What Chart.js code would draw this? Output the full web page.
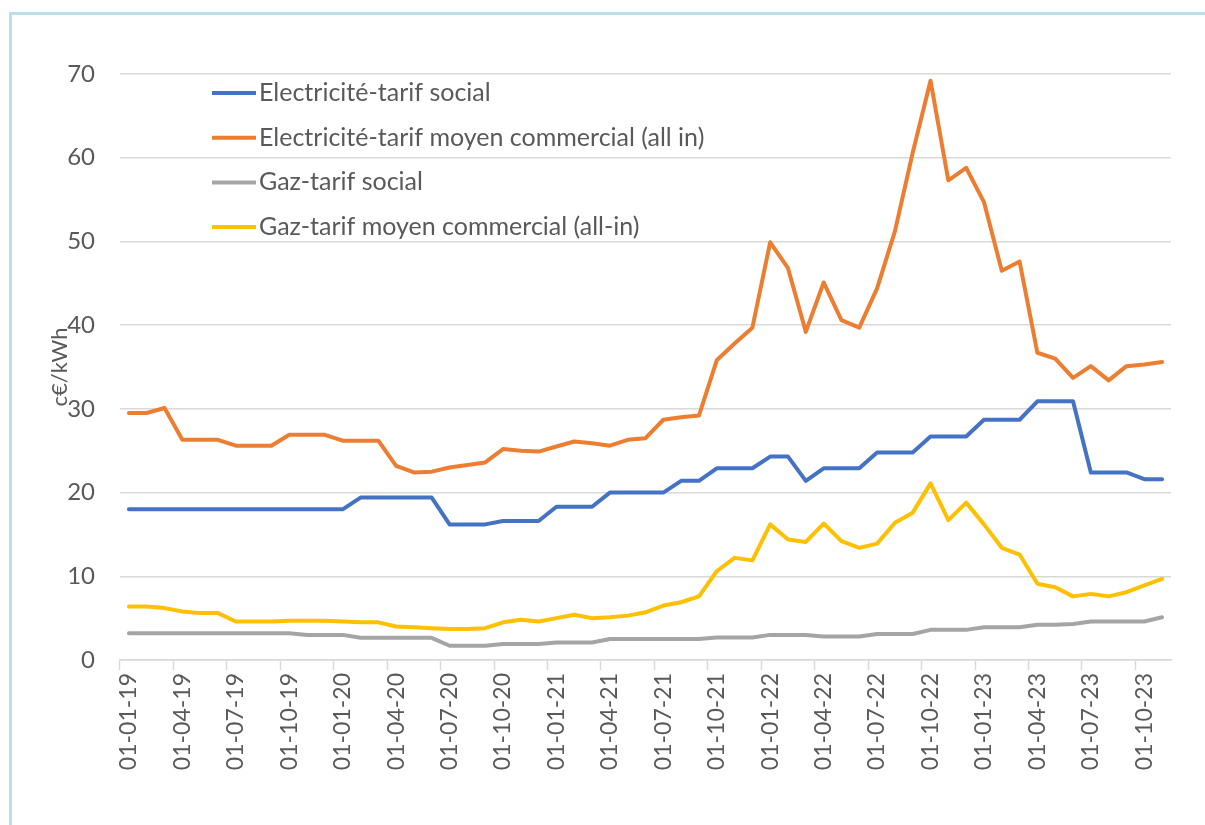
<!DOCTYPE html>
<html>
<head>
<meta charset="utf-8">
<script src="https://cdn.jsdelivr.net/npm/chart.js@4.4.1/dist/chart.umd.min.js"></script>
<style>
  html, body { margin: 0; padding: 0; background: #fff; overflow: hidden; }
  #frame {
    position: absolute; left: 9px; top: 12px; width: 1300px; height: 900px;
    border-left: 3px solid #bcdde9; border-top: 3px solid #bcdde9;
  }
  #wrap { position: absolute; left: 0; top: 0; width: 1205px; height: 825px; }
</style>
</head>
<body>
<div id="frame"></div>
<div id="wrap"><canvas id="chart" width="1205" height="825"></canvas></div>
<script>
const months = [
    "01-01-19", "01-02-19", "01-03-19", "01-04-19", "01-05-19", "01-06-19",
    "01-07-19", "01-08-19", "01-09-19", "01-10-19", "01-11-19", "01-12-19",
    "01-01-20", "01-02-20", "01-03-20", "01-04-20", "01-05-20", "01-06-20",
    "01-07-20", "01-08-20", "01-09-20", "01-10-20", "01-11-20", "01-12-20",
    "01-01-21", "01-02-21", "01-03-21", "01-04-21", "01-05-21", "01-06-21",
    "01-07-21", "01-08-21", "01-09-21", "01-10-21", "01-11-21", "01-12-21",
    "01-01-22", "01-02-22", "01-03-22", "01-04-22", "01-05-22", "01-06-22",
    "01-07-22", "01-08-22", "01-09-22", "01-10-22", "01-11-22", "01-12-22",
    "01-01-23", "01-02-23", "01-03-23", "01-04-23", "01-05-23", "01-06-23",
    "01-07-23", "01-08-23", "01-09-23", "01-10-23", "01-11-23"
]

const elecSocial = [
    18.0, 18.0, 18.0, 18.0, 18.0, 18.0, 18.0, 18.0, 18.0, 18.0, 18.0, 18.0,
    18.0, 19.4, 19.4, 19.4, 19.4, 19.4, 16.2, 16.2, 16.2, 16.6, 16.6, 16.6,
    18.3, 18.3, 18.3, 20.0, 20.0, 20.0, 20.0, 21.4, 21.4, 22.9, 22.9, 22.9,
    24.3, 24.3, 21.4, 22.9, 22.9, 22.9, 24.8, 24.8, 24.8, 26.7, 26.7, 26.7,
    28.7, 28.7, 28.7, 30.9, 30.9, 30.9, 22.4, 22.4, 22.4, 21.6, 21.6
]

const elecCommercial = [
    29.5, 29.5, 30.1, 26.3, 26.3, 26.3, 25.6, 25.6, 25.6, 26.9, 26.9, 26.9,
    26.2, 26.2, 26.2, 23.2, 22.4, 22.5, 23.0, 23.3, 23.6, 25.2, 25.0, 24.9,
    25.5, 26.1, 25.9, 25.6, 26.3, 26.5, 28.7, 29.0, 29.2, 35.8, 37.8, 39.7,
    49.9, 46.8, 39.2, 45.1, 40.6, 39.7, 44.4, 51.2, 60.6, 69.2, 57.3, 58.8,
    54.7, 46.5, 47.6, 36.7, 36.0, 33.7, 35.1, 33.4, 35.1, 35.3, 35.6
]

const gazSocial = [
    3.2, 3.2, 3.2, 3.2, 3.2, 3.2, 3.2, 3.2, 3.2, 3.2, 3.0, 3.0,
    3.0, 2.65, 2.65, 2.65, 2.65, 2.65, 1.7, 1.7, 1.7, 1.9, 1.9, 1.9,
    2.1, 2.1, 2.1, 2.5, 2.5, 2.5, 2.5, 2.5, 2.5, 2.7, 2.7, 2.7,
    3.0, 3.0, 3.0, 2.8, 2.8, 2.8, 3.1, 3.1, 3.1, 3.6, 3.6, 3.6,
    3.9, 3.9, 3.9, 4.2, 4.2, 4.3, 4.6, 4.6, 4.6, 4.6, 5.1
]

const gazCommercial = [
    6.4, 6.4, 6.2, 5.8, 5.6, 5.6, 4.6, 4.6, 4.6, 4.7, 4.7, 4.7,
    4.6, 4.5, 4.5, 4.0, 3.9, 3.8, 3.7, 3.7, 3.8, 4.5, 4.8, 4.6,
    5.0, 5.4, 5.0, 5.1, 5.3, 5.7, 6.5, 6.9, 7.6, 10.6, 12.2, 11.9,
    16.2, 14.4, 14.1, 16.3, 14.2, 13.4, 13.9, 16.4, 17.6, 21.1, 16.7, 18.8,
    16.2, 13.4, 12.6, 9.1, 8.7, 7.6, 7.9, 7.6, 8.1, 8.9, 9.7
]

const seriesNames = [
    "Electricité-tarif social",
    "Electricité-tarif moyen commercial (all in)",
    "Gaz-tarif social",
    "Gaz-tarif moyen commercial (all-in)"
]
const seriesColors = ["#4472c4", "#ed7d31", "#a5a5a5", "#ffc000"]
const yTicks = [0, 10, 20, 30, 40, 50, 60, 70]

const textColor = "#595959"
const gridColor = "#d9d9d9"

Chart.defaults.font.family = "Lato"
Chart.defaults.font.size = 22
Chart.defaults.color = textColor

// legend drawn inside the plot, top left, one entry per line
const insideLegend = {
    id: "insideLegend",
    afterDatasetsDraw(chart) {
        const { ctx, chartArea } = chart
        const x0 = chartArea.left + 92
        let y = chartArea.top + 19
        ctx.save()
        ctx.font = "25px Lato"
        ctx.textBaseline = "middle"
        ctx.textAlign = "left"
        chart.data.datasets.forEach(ds => {
            ctx.strokeStyle = ds.borderColor
            ctx.lineWidth = 4
            ctx.beginPath()
            ctx.moveTo(x0, y)
            ctx.lineTo(x0 + 44, y)
            ctx.stroke()
            ctx.fillStyle = textColor
            ctx.fillText(ds.label, x0 + 47, y)
            y += 44.7
        })
        ctx.restore()
    }
}

const values = [elecSocial, elecCommercial, gazSocial, gazCommercial]

new Chart(document.getElementById("chart"), {
    type: "line",
    data: {
        labels: months,
        datasets: values.map((data, i) => ({
            label: seriesNames[i],
            data: data,
            borderColor: seriesColors[i],
            backgroundColor: seriesColors[i],
            borderWidth: 4,
            pointRadius: 0,
            tension: 0,
            borderJoinStyle: "round",
            borderCapStyle: "round",
            fill: false
        }))
    },
    options: {
        responsive: false,
        animation: false,
        events: [],
        layout: { padding: { top: 74, right: 34, bottom: 0, left: 0 } },
        plugins: {
            legend: { display: false },
            tooltip: { enabled: false }
        },
        scales: {
            x: {
                offset: true,
                grid: {
                    offset: true,
                    drawOnChartArea: false,
                    drawTicks: true,
                    tickLength: 10,
                    tickWidth: 1.5,
                    tickColor: ctx => ctx.index % 3 === 0 ? gridColor : "rgba(0,0,0,0)"
                },
                border: { display: true, color: gridColor, width: 1.5 },
                ticks: {
                    autoSkip: false,
                    maxRotation: 90,
                    minRotation: 90,
                    padding: 3,
                    color: textColor,
                    font: { size: 23 },
                    callback: function (value, index) {
                        return index % 3 === 0 ? this.getLabelForValue(value) : ""
                    }
                },
                afterFit: scale => { scale.height = 165 }
            },
            y: {
                min: yTicks[0],
                max: yTicks[yTicks.length - 1],
                afterBuildTicks: scale => { scale.ticks = yTicks.map(v => ({ value: v })) },
                grid: { color: gridColor, lineWidth: 1.5, drawTicks: false },
                border: { display: false },
                ticks: { padding: 25, color: textColor, font: { size: 24 } },
                title: {
                    display: true,
                    text: "c€/kWh",
                    color: textColor,
                    font: { size: 22 },
                    padding: { top: 47, bottom: 0 }
                },
                afterFit: scale => { scale.width = 120 }
            }
        }
    },
    plugins: [insideLegend]
})
</script>
</body>
</html>
